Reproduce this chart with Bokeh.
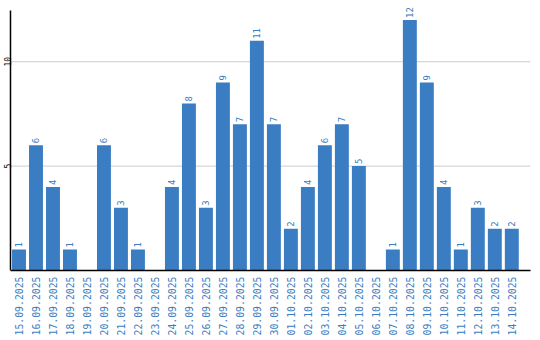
import math
from bokeh.plotting import figure
from bokeh.models import ColumnDataSource, FixedTicker, Range1d
from bokeh.core.properties import value
from bokeh.embed import file_html
from bokeh.resources import INLINE

dates = ["15.09.2025", "16.09.2025", "17.09.2025", "18.09.2025", "19.09.2025",
         "20.09.2025", "21.09.2025", "22.09.2025", "23.09.2025", "24.09.2025",
         "25.09.2025", "26.09.2025", "27.09.2025", "28.09.2025", "29.09.2025",
         "30.09.2025", "01.10.2025", "02.10.2025", "03.10.2025", "04.10.2025",
         "05.10.2025", "06.10.2025", "07.10.2025", "08.10.2025", "09.10.2025",
         "10.10.2025", "11.10.2025", "12.10.2025", "13.10.2025", "14.10.2025"]
counts = [1, 6, 4, 1, 0, 6, 3, 1, 0, 4, 8, 3, 9, 7, 11, 7, 2, 4, 6, 7, 5, 0,
          1, 12, 9, 4, 1, 3, 2, 2]
y_ticks = [5, 10]
y_axis_max = 12.45
x_axis_max = 30.6

BLUE = "#3a7dc2"
xs = [i + 0.5 for i in range(len(dates))]

bars = ColumnDataSource(dict(x=[x for x, c in zip(xs, counts) if c > 0],
                             top=[c for c in counts if c > 0],
                             label=[str(c) for c in counts if c > 0]))

p = figure(frame_width=530, frame_height=267, output_backend="svg",
           toolbar_location=None,
           x_range=Range1d(-10 / 17, x_axis_max), y_range=Range1d(0, 12.79),
           min_border_left=0, min_border_right=10, min_border_top=3,
           min_border_bottom=0)
p.outline_line_color = None
p.background_fill_color = "white"
p.border_fill_color = "white"

# horizontal grid lines, starting at the y axis
p.segment(x0=[0] * len(y_ticks), x1=[x_axis_max] * len(y_ticks),
          y0=y_ticks, y1=y_ticks, line_color="#cccccc", line_width=1)

p.vbar(x="x", top="top", width=0.82, bottom=0, source=bars,
       fill_color=BLUE, line_color=None)
p.text(x="x", y="top", text="label", source=bars, angle=math.pi / 2,
       text_align="left", text_baseline="middle", y_offset=-2,
       text_font=value("DejaVu Sans Mono"), text_font_size="9px",
       text_color=BLUE)

# y axis line and its tick labels
p.segment(x0=[0], x1=[0], y0=[0], y1=[y_axis_max], line_color="black",
          line_width=1.5)
p.text(x=[0] * len(y_ticks), y=y_ticks, text=[str(t) for t in y_ticks],
       x_offset=-3, angle=math.pi / 2, text_align="center",
       text_baseline="alphabetic", text_font=value("DejaVu Sans Mono"),
       text_font_size="8px", text_color="black")

p.yaxis.visible = False
p.xgrid.grid_line_color = None
p.ygrid.grid_line_color = None

p.xaxis.ticker = FixedTicker(ticks=xs)
p.xaxis.bounds = (0, x_axis_max)
p.xaxis.major_label_overrides = {x: d for x, d in zip(xs, dates)}
p.xaxis.major_label_orientation = math.pi / 2
p.xaxis.major_label_text_font = "DejaVu Sans Mono"
p.xaxis.major_label_text_font_size = "9.8px"
p.xaxis.major_label_text_color = BLUE
p.xaxis.major_tick_line_color = None
p.xaxis.minor_tick_line_color = None
p.xaxis.major_tick_out = 0
p.xaxis.major_tick_in = 0
p.xaxis.major_label_standoff = 6
p.xaxis.axis_line_color = "black"
p.xaxis.axis_line_width = 1.5

open("out.html", "w").write(file_html(p, INLINE))
